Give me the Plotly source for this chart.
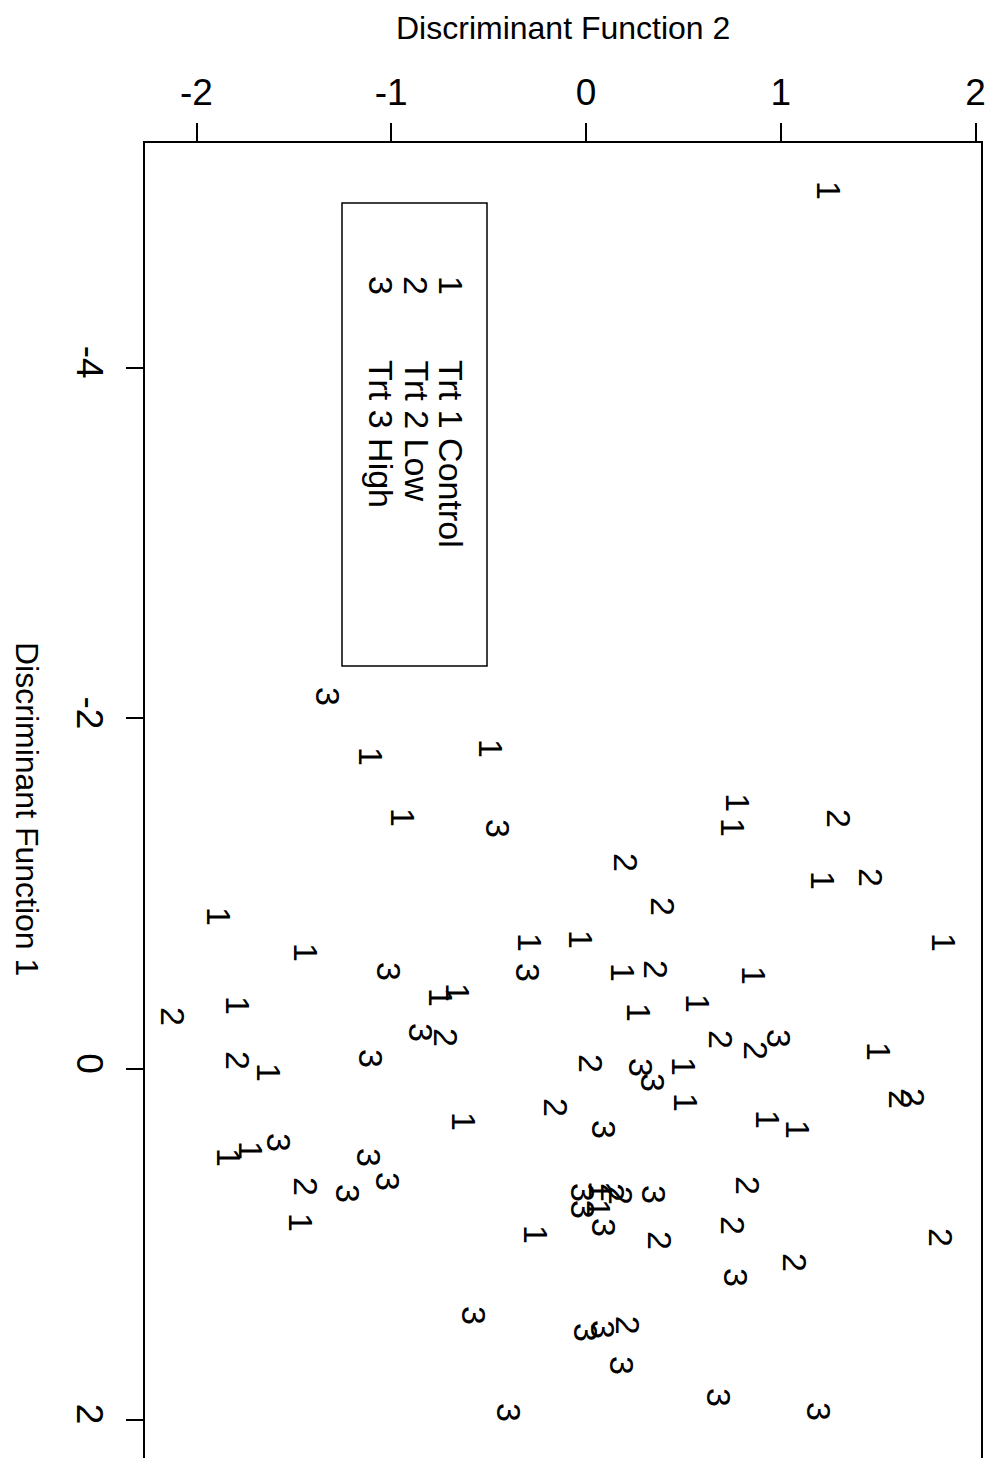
import plotly.graph_objects as go

# Treatment group codes and legend labels
group_codes = ["1", "2", "3"]
group_names = ["Trt 1 Control", "Trt 2 Low", "Trt 3 High"]

# Discriminant Function 2 (horizontal) and Discriminant Function 1 (vertical) scores
trt1_df2 = [1.243, -0.493, -1.109, -0.945, 0.775, 0.750, 1.212, -0.031, 1.833, -1.890,
            -0.293, -1.443, -0.662, -0.750, -1.792, -1.633, -0.632, -1.725, -1.838, -1.469,
            0.185, 0.858, 0.570, 0.267, 1.499, 0.498, 0.508, 0.929, 1.083, 0.072,
            0.062, -0.262]
trt1_df1 = [-5.014, -1.825, -1.786, -1.432, -1.517, -1.380, -1.078, -0.736, -0.719, -0.867,
            -0.719, -0.662, -0.439, -0.405, -0.365, 0.023, 0.302, 0.462, 0.502, 0.878,
            -0.553, -0.536, -0.376, -0.325, -0.097, -0.011, 0.194, 0.291, 0.348, 0.690,
            0.793, 0.947]

trt2_df2 = [1.294, 0.200, 1.458, 0.390, -2.126, -0.724, -1.792, -0.159, -1.443, 0.354,
            0.688, 0.868, 0.021, 1.612, 1.674, 0.827, 0.134, 0.175, 0.375, 0.750,
            1.818, 1.068, 0.211]
trt2_df1 = [-1.432, -1.175, -1.090, -0.924, -0.297, -0.183, -0.051, 0.217, 0.673, -0.565,
            -0.165, -0.108, -0.034, 0.177, 0.160, 0.662, 0.702, 0.719, 0.975, 0.890,
            0.958, 1.107, 1.460]

trt3_df2 = [-1.330, -0.457, -1.017, -0.303, -0.852, -1.109, -1.582, -1.119, -1.022, -1.227,
            0.986, 0.277, 0.339, 0.087, 0.344, -0.021, -0.021, 0.087, 0.765, -0.580,
            -0.005, 0.082, 0.180, 0.678, 1.191, -0.401]
trt3_df1 = [-2.122, -1.375, -0.553, -0.548, -0.211, -0.063, 0.422, 0.502, 0.645, 0.707,
            -0.177, -0.006, 0.074, 0.348, 0.719, 0.707, 0.804, 0.907, 1.192, 1.403,
            1.500, 1.489, 1.689, 1.871, 1.957, 1.962]

x_ticks = [-2, -1, 0, 1, 2]
y_ticks = [-4, -2, 0, 2]

FONT = "Liberation Sans, Arial, Helvetica, sans-serif"

# page is offset by the default 8px body margin
OFF = 8
PAGE_W, PAGE_H = 997, 1458
W, H = PAGE_W - OFF, PAGE_H - OFF
PL, PR, PT, PB = 145, 981, 143, 1458          # plot box in page pixels
ML, MR, MT, MB = PL - OFF, PAGE_W - PR, PT - OFF, 0

fig = go.Figure()
annotations = []
groups = [(trt1_df2, trt1_df1), (trt2_df2, trt2_df1), (trt3_df2, trt3_df1)]
for code, name, (xs, ys) in zip(group_codes, group_names, groups):
    fig.add_trace(go.Scatter(x=xs, y=ys, mode="markers", name=name,
                             marker=dict(size=1, opacity=0), hoverinfo="x+y+name",
                             showlegend=False))
    for xv, yv in zip(xs, ys):
        annotations.append(dict(x=xv, y=yv, xref="x", yref="y", text=code,
                                showarrow=False, textangle=90, xanchor="center",
                                yanchor="middle", xshift=1,
                                font=dict(family=FONT, size=34, color="black")))


def px_x(p):
    return (p - PL) / (PR - PL)


def px_y(p):
    return 1 - (p - PT) / (PB - PT)


# Legend box
fig.add_shape(type="rect", xref="paper", yref="paper",
              x0=px_x(342), x1=px_x(487), y0=px_y(666), y1=px_y(203),
              line=dict(color="black", width=1.5), fillcolor="rgba(0,0,0,0)")
legend_x = [451, 416, 381]
for code, name, lx in zip(group_codes, group_names, legend_x):
    annotations.append(dict(x=px_x(lx), y=px_y(285), xref="paper", yref="paper",
                            text=code, showarrow=False, textangle=90,
                            xanchor="center", yanchor="middle",
                            font=dict(family=FONT, size=34, color="black")))
    annotations.append(dict(x=px_x(lx), y=px_y(358), xref="paper", yref="paper",
                            text=name, showarrow=False, textangle=90,
                            xanchor="center", yanchor="top",
                            font=dict(family=FONT, size=34, color="black")))

# Axis titles
annotations.append(dict(x=0.5, y=px_y(28), xref="paper", yref="paper",
                        text="Discriminant Function 2", showarrow=False,
                        xanchor="center", yanchor="middle",
                        font=dict(family=FONT, size=32, color="black")))
annotations.append(dict(x=px_x(27), y=px_y(809), xref="paper", yref="paper",
                        text="Discriminant Function 1", showarrow=False, textangle=90,
                        xanchor="center", yanchor="middle",
                        font=dict(family=FONT, size=32, color="black")))

x_left = (PL - 586) / 194.75
x_right = (PR - 586) / 194.75
y_top = (PT - 1069) / 175.3
y_bot = (PB - 1069) / 175.3

fig.update_layout(
    width=W, height=H,
    margin=dict(l=ML, r=MR, t=MT, b=MB, pad=0),
    paper_bgcolor="white", plot_bgcolor="white",
    showlegend=False,
    annotations=annotations,
    xaxis=dict(side="top", range=[x_left, x_right], tickvals=x_ticks,
               ticktext=[str(v) for v in x_ticks],
               showgrid=False, zeroline=False, showline=True, mirror=False,
               linecolor="black", linewidth=2, ticks="outside", ticklen=18,
               tickwidth=2, tickcolor="black", ticklabelstandoff=3,
               tickfont=dict(family=FONT, size=37, color="black")),
    yaxis=dict(range=[y_bot, y_top], tickvals=y_ticks,
               ticktext=[str(v) for v in y_ticks],
               showgrid=False, zeroline=False, showline=True, mirror=True,
               linecolor="black", linewidth=2, ticks="outside", ticklen=17,
               tickwidth=2, tickcolor="black", tickangle=90, ticklabelstandoff=5,
               tickfont=dict(family=FONT, size=37, color="black")),
)

fig.write_html("out.html")
